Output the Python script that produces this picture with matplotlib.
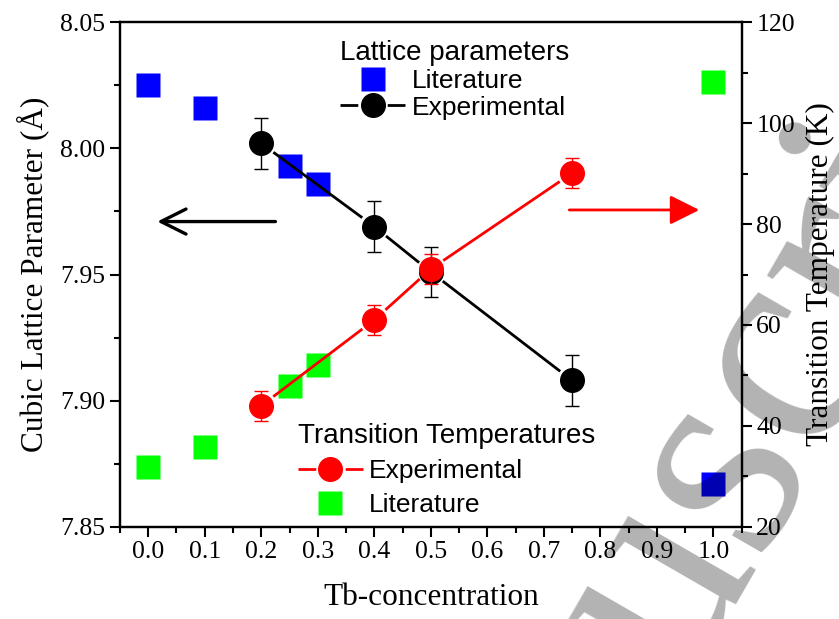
import numpy as np
import matplotlib
matplotlib.use('Agg')
import matplotlib.pyplot as plt
from matplotlib.lines import Line2D
from matplotlib.ticker import MultipleLocator, FormatStrFormatter

# lattice parameter (Angstrom) vs Tb content
x_lit = [0.0, 0.1, 0.25, 0.3, 1.0]
a_lit = [8.025, 8.016, 7.993, 7.986, 7.867]
x_exp = [0.2, 0.4, 0.5, 0.75]
a_exp = [8.002, 7.969, 7.951, 7.908]
a_err = [0.010, 0.010, 0.010, 0.010]

# transition temperatures (K)
t_lit = [31.9, 35.8, 47.9, 52.1, 108.1]
t_exp = [44.0, 61.0, 71.1, 90.1]
t_err = [3.0, 3.0, 3.0, 3.0]

xticks = [0.0, 0.1, 0.2, 0.3, 0.4, 0.5, 0.6, 0.7, 0.8, 0.9, 1.0]

serif = 'Liberation Serif'
sans = 'Liberation Sans'
plt.rcParams['font.family'] = serif

fig = plt.figure(figsize=(8.39, 6.19), dpi=100)
ax = fig.add_axes([0.143, 0.149, 0.741, 0.815])
ax2 = ax.twinx()

ax.set_xlim(-0.05, 1.05)
ax.set_ylim(7.85, 8.05)
ax2.set_ylim(20, 120)

for a in (ax, ax2):
    for s in a.spines.values():
        s.set_linewidth(1.6)
    a.tick_params(which='major', direction='out', length=7, width=1.5, labelsize=18.5)
    a.tick_params(which='minor', direction='out', length=4, width=1.5)

ax.set_xticks(xticks)
ax.set_xticklabels(['%.1f' % v for v in xticks])
ax.xaxis.set_minor_locator(MultipleLocator(0.05))
ax.yaxis.set_major_locator(MultipleLocator(0.05))
ax.yaxis.set_minor_locator(MultipleLocator(0.025))
ax.yaxis.set_major_formatter(FormatStrFormatter('%.2f'))
ax2.yaxis.set_major_locator(MultipleLocator(20))
ax2.yaxis.set_minor_locator(MultipleLocator(10))

ax.set_xlabel('Tb-concentration', fontsize=22.5, labelpad=14)
ax.set_ylabel('Cubic Lattice Parameter (Å)', fontsize=22.5, labelpad=8)
ax2.set_ylabel('Transition Temperature (K)', fontsize=22.5, labelpad=8)


def gapped_line(axis, xs, ys, color, gap=15):
    # connect points with segments that stop short of the markers
    pts = axis.transData.transform(np.column_stack([xs, ys]))
    inv = axis.transData.inverted()
    for p, q in zip(pts[:-1], pts[1:]):
        d = q - p
        u = d / np.hypot(*d)
        seg = inv.transform([p + u * gap, q - u * gap])
        axis.plot(seg[:, 0], seg[:, 1], color=color, lw=2, zorder=3, solid_capstyle='butt')


# lattice parameters (left axis)
ax.plot(x_lit, a_lit, 's', color='#0000ff', ms=17, mec='none', zorder=2)
gapped_line(ax, x_exp, a_exp, 'k')
ax.errorbar(x_exp, a_exp, yerr=a_err, fmt='o', color='k', ms=17, elinewidth=1,
            capsize=5, capthick=1, zorder=4)

# transition temperatures (right axis)
ax2.plot(x_lit, t_lit, 's', color='#00ff00', ms=17, mec='none', zorder=2)
gapped_line(ax2, x_exp, t_exp, '#ff0000')
ax2.errorbar(x_exp, t_exp, yerr=t_err, fmt='o', color='#ff0000', ms=17, elinewidth=1,
             capsize=5, capthick=1, zorder=4)

# axis pointers
ax.annotate('', xy=(0.016, 7.971), xytext=(0.225, 7.971),
            arrowprops=dict(arrowstyle='->, head_length=0.9, head_width=0.45',
                            color='k', lw=2.4, mutation_scale=20, shrinkA=0, shrinkB=0))
ax2.annotate('', xy=(0.975, 82.8), xytext=(0.745, 82.8),
             arrowprops=dict(arrowstyle='-|>, head_length=0.9, head_width=0.45',
                             color='#ff0000', lw=2, mutation_scale=20, shrinkA=0, shrinkB=0))

# legends: dashed handle line leaves a gap round the marker
gap_dash = (0, (6.4, 10.6, 6.4, 100))
hl = Line2D([], [], ls='none', marker='s', color='#0000ff', ms=17, mec='none')
he = Line2D([], [], color='k', lw=2, ls=gap_dash, marker='o', ms=17)
leg1 = ax.legend([hl, he], ['Literature', 'Experimental'], title='Lattice parameters',
                 loc='upper left', bbox_to_anchor=(0.354, 0.964), frameon=False,
                 prop={'family': sans, 'size': 19}, labelspacing=0.1,
                 handlelength=2.46, handletextpad=0.25, borderpad=0, borderaxespad=0,
                 alignment='left')
leg1.get_title().set_fontfamily(sans)
leg1.get_title().set_fontsize(20)

hr = Line2D([], [], color='#ff0000', lw=2, ls=gap_dash, marker='o', ms=17)
hg = Line2D([], [], ls='none', marker='s', color='#00ff00', ms=17, mec='none')
leg2 = ax2.legend([hr, hg], ['Experimental', 'Literature'], title='Transition Temperatures',
                  loc='upper left', bbox_to_anchor=(0.286, 0.206), frameon=False,
                  prop={'family': sans, 'size': 19}, labelspacing=0.38,
                  handlelength=2.46, handletextpad=0.25, borderpad=0, borderaxespad=0,
                  alignment='left')
leg2.get_title().set_fontfamily(sans)
leg2.get_title().set_fontsize(20)
leg2.set_zorder(5)

# watermark
fig.text(0.89, 0.078, 'Manuscript', fontsize=215, family=serif, color='k', alpha=0.3,
         rotation=60, rotation_mode='anchor', ha='center', va='baseline', zorder=10)

fig.savefig('out.png', dpi=100)
